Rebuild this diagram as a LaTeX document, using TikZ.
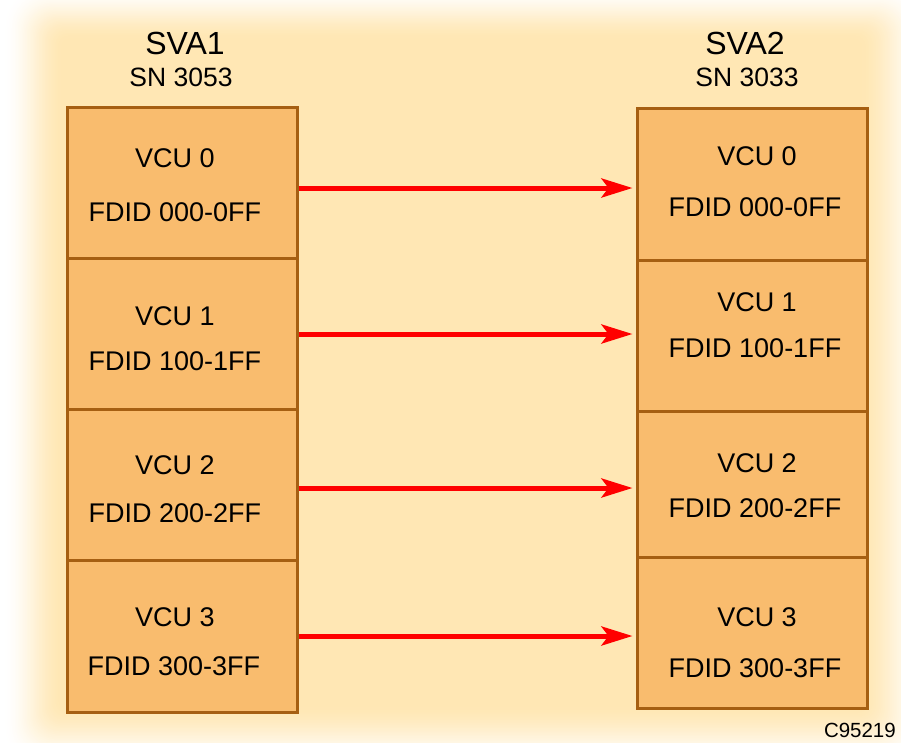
\documentclass[tikz,border=0pt]{standalone}
\usepackage{fontspec}
\setmainfont{Liberation Sans}
\usetikzlibrary{arrows.meta}
\definecolor{bgc}{RGB}{255,231,180}
\definecolor{cellfill}{RGB}{249,188,110}
\definecolor{cellline}{RGB}{166,95,18}
\definecolor{arrred}{RGB}{255,0,0}
\begin{document}
\begin{tikzpicture}[x=1pt,y=-1pt,
  cell/.style={draw=cellline, fill=cellfill, line width=3pt, minimum width=230pt, inner sep=0pt},
  txt/.style={inner sep=0pt, font=\fontsize{27}{32}\selectfont},
  head/.style={inner sep=0pt, font=\fontsize{32}{38}\selectfont},
  sub/.style={inner sep=0pt, font=\fontsize{26.5}{31}\selectfont},
  arr/.style={draw=arrred, line width=5pt, -{Stealth[length=31pt,width=19pt,inset=7pt]}}]
\useasboundingbox (0,0) rectangle (901,742);
\begin{scope}
\clip (0,0) rectangle (901,742);
\fill[white] (0,0) rectangle (901,742);
\foreach \i in {0,...,40}{
  \pgfmathsetmacro\t{\i/40}
  \pgfmathsetmacro\p{100*(3*\t*\t-2*\t*\t*\t)}
  \fill[bgc!\p!white, rounded corners={40-0.8*\i}] (3+60*\t,-15+55*\t) rectangle (930-70*\t,770-65*\t);
}
\end{scope}
% headers
\node[head] (h1) at (185,43) {SVA1};
\node[sub] (s1) at (181,77.5) {SN 3053};
\node[head] (h2) at (745,43) {SVA2};
\node[sub] (s2) at (747,77.5) {SN 3033};
% left cells
\node[cell, minimum height=151pt] (l0) at (182,182.5) {};
\node[cell, minimum height=151pt] (l1) at (182,333.5) {};
\node[cell, minimum height=151pt] (l2) at (182,484.5) {};
\node[cell, minimum height=152pt] (l3) at (182,636) {};
% right cells
\node[cell, minimum height=152pt] (r0) at (752,184) {};
\node[cell, minimum height=151pt] (r1) at (752,335.5) {};
\node[cell, minimum height=146pt] (r2) at (752,484) {};
\node[cell, minimum height=151pt] (r3) at (752,632.5) {};
% left texts
\node[txt] (lv0) at (175,158) {VCU 0};
\node[txt] (lf0) at (175,212) {FDID 000-0FF};
\node[txt] (lv1) at (175,316) {VCU 1};
\node[txt] (lf1) at (175,361) {FDID 100-1FF};
\node[txt] (lv2) at (175,465) {VCU 2};
\node[txt] (lf2) at (175,513) {FDID 200-2FF};
\node[txt] (lv3) at (175,617.5) {VCU 3};
\node[txt] (lf3) at (174,666) {FDID 300-3FF};
% right texts
\node[txt] (rv0) at (757,156) {VCU 0};
\node[txt] (rf0) at (755,207) {FDID 000-0FF};
\node[txt] (rv1) at (757,302) {VCU 1};
\node[txt] (rf1) at (755,348) {FDID 100-1FF};
\node[txt] (rv2) at (757,463) {VCU 2};
\node[txt] (rf2) at (755,508) {FDID 200-2FF};
\node[txt] (rv3) at (757,617) {VCU 3};
\node[txt] (rf3) at (755,668) {FDID 300-3FF};
% arrows
\coordinate (a0) at (0,188);
\coordinate (a1) at (0,334);
\coordinate (a2) at (0,488);
\coordinate (a3) at (0,636);
\draw[arr, shorten >=3pt] (l0.east|-a0) -- (r0.west|-a0);
\draw[arr, shorten >=3pt] (l1.east|-a1) -- (r1.west|-a1);
\draw[arr, shorten >=3pt] (l2.east|-a2) -- (r2.west|-a2);
\draw[arr, shorten >=3pt] (l3.east|-a3) -- (r3.west|-a3);
% id
\node[inner sep=0pt, anchor=east, font=\fontsize{20.5}{24}\selectfont] (id) at (896,730.5) {C95219};
\end{tikzpicture}
\end{document}
